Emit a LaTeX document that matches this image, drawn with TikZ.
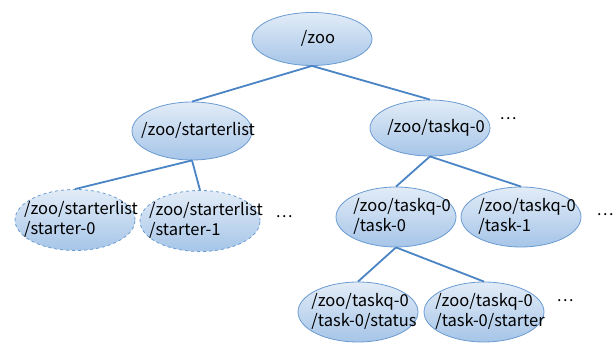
\documentclass[tikz,border=0pt]{standalone}
\usepackage{fontspec}
\setmainfont{Noto Sans CJK JP}
\usetikzlibrary{shapes.geometric}

\definecolor{edgeblue}{HTML}{4A84C4}
\definecolor{rimblue}{HTML}{6A9BD1}
\definecolor{topblue}{HTML}{E2ECF7}
\definecolor{botblue}{HTML}{A6C5E8}

\newcommand{\ztext}[1]{\makebox[0pt]{\hspace{12pt}\smash{\raisebox{-.3em}{\begin{tabular}{@{}l@{}}#1\end{tabular}}}}}

\begin{document}
\begin{tikzpicture}[x=1pt, y=-1pt,
	znode/.style={ellipse, draw=rimblue, line width=.8pt, top color=topblue, bottom color=botblue,
		minimum width=120pt, minimum height=58pt, inner sep=0pt, font=\fontsize{16.5}{20.5}\selectfont},
	ghost/.style={znode, dashed},
	link/.style={draw=edgeblue, line width=1.8pt},
	more/.style={font=\fontsize{16}{20}\selectfont}]
	\useasboundingbox (0, 0) rectangle (616, 344);

	\node[znode, minimum height=53pt] (zoo) at (312, 39) {\ztext{/zoo}};
	\node[znode] (starterlist) at (192, 131) {\ztext{/zoo/starterlist}};
	\node[znode, minimum height=56pt] (taskq) at (430, 128) {\ztext{/zoo/taskq-0}};
	\node[ghost, minimum height=61pt] (starter0) at (75, 220) {\ztext{/zoo/starterlist\\/starter-0}};
	\node[ghost, minimum height=61pt] (starter1) at (200, 221) {\ztext{/zoo/starterlist\\/starter-1}};
	\node[znode, minimum height=60pt] (task0) at (396, 217) {\ztext{/zoo/taskq-0\\/task-0}};
	\node[znode, minimum height=60pt] (task1) at (521, 217) {\ztext{/zoo/taskq-0\\/task-1}};
	\node[znode, minimum height=60pt] (status) at (358, 312) {\ztext{/zoo/taskq-0\\/task-0/status}};
	\node[znode, minimum height=60pt] (starter) at (484, 312) {\ztext{/zoo/taskq-0\\/task-0/starter}};

	\draw[link] (zoo.south) -- (starterlist.north);
	\draw[link] (zoo.south) -- (taskq.north);
	\draw[link] (starterlist.south) -- (starter0.north);
	\draw[link] (starterlist.south) -- (starter1.north);
	\draw[link] (taskq.south) -- (task0.north);
	\draw[link] (taskq.south) -- (task1.north);
	\draw[link] (task0.south) -- (status.north);
	\draw[link] (task0.south) -- (starter.north);

	\node[more] (dotsA) at (508, 121) {\raisebox{.3em}{…}};
	\node[more] (dotsB) at (284, 219) {\raisebox{.3em}{…}};
	\node[more] (dotsC) at (605, 217) {\raisebox{.3em}{…}};
	\node[more] (dotsD) at (565, 303) {\raisebox{.3em}{…}};
\end{tikzpicture}
\end{document}
